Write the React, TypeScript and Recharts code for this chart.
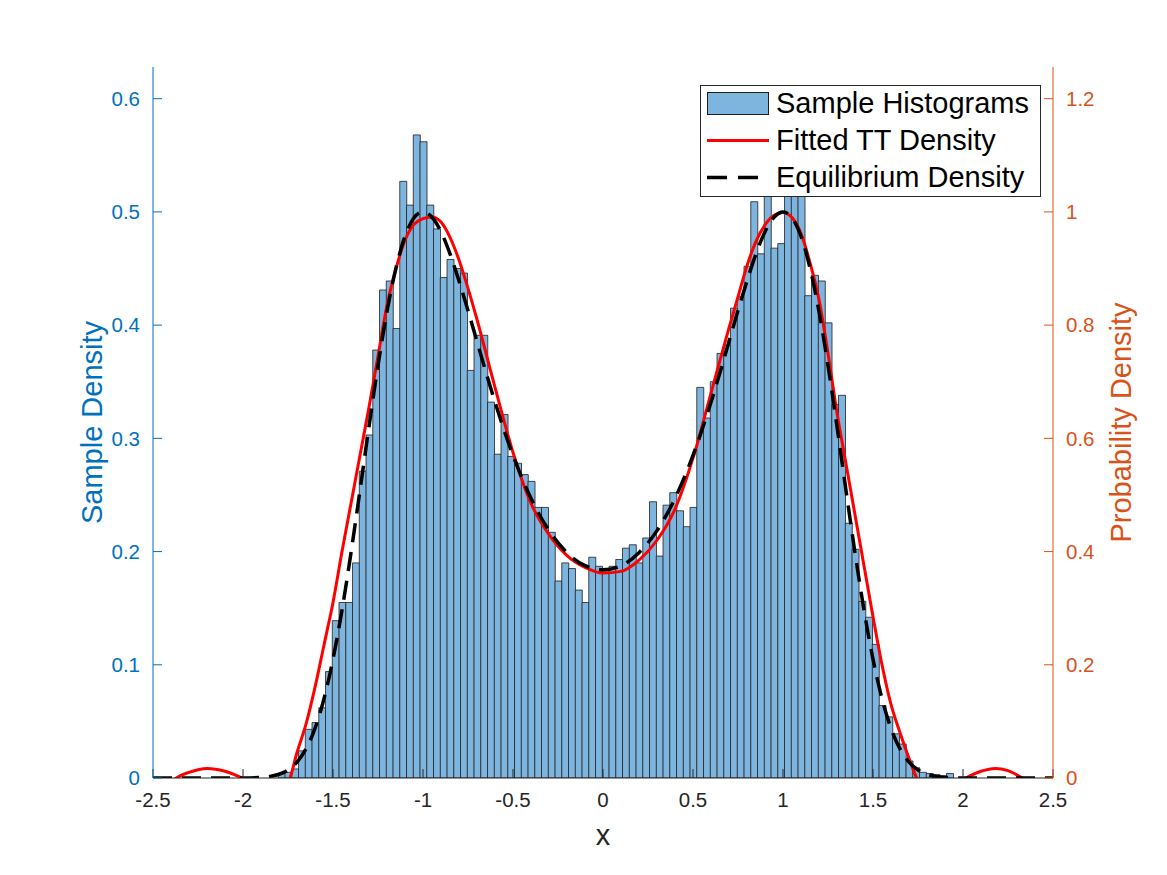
import React from 'react';
import { ComposedChart, Bar, Line, XAxis, YAxis, Legend } from 'recharts';

const FONT = '"Liberation Sans", Arial, Helvetica, sans-serif';
const BLUE = '#0072BD';
const ORANGE = '#D95319';
const AXIS = '#262626';
const BAR_FILL = '#7DB5DE';

// Histogram: 100 bins starting at BIN_START, width BIN_WIDTH
const BIN_START = -1.804;
const BIN_WIDTH = 0.0375;
const histogramDensity = [
  0.004, 0.005, 0.008, 0.024, 0.043, 0.049, 0.062, 0.094, 0.139, 0.155,
  0.155, 0.190, 0.271, 0.303, 0.378, 0.431, 0.439, 0.397, 0.527, 0.506,
  0.568, 0.562, 0.506, 0.485, 0.442, 0.458, 0.450, 0.446, 0.360, 0.391,
  0.391, 0.332, 0.286, 0.321, 0.284, 0.278, 0.268, 0.262, 0.239, 0.239,
  0.217, 0.174, 0.190, 0.185, 0.166, 0.155, 0.195, 0.187, 0.182, 0.187,
  0.193, 0.203, 0.206, 0.190, 0.212, 0.244, 0.196, 0.241, 0.252, 0.236,
  0.222, 0.239, 0.345, 0.318, 0.350, 0.375, 0.382, 0.415, 0.425, 0.452,
  0.509, 0.463, 0.525, 0.468, 0.472, 0.545, 0.550, 0.530, 0.426, 0.444,
  0.439, 0.402, 0.330, 0.338, 0.225, 0.202, 0.156, 0.142, 0.118, 0.064,
  0.054, 0.039, 0.030, 0.015, 0.009, 0.005, 0.004, 0.003, 0.002, 0.004,
];

const X_TICKS = [-2.5, -2, -1.5, -1, -0.5, 0, 0.5, 1, 1.5, 2, 2.5];
const LEFT_TICKS = [0, 0.1, 0.2, 0.3, 0.4, 0.5, 0.6];
const RIGHT_TICKS = [0, 0.2, 0.4, 0.6, 0.8, 1, 1.2];
const X_DOMAIN = [-2.5, 2.5];
const LEFT_DOMAIN = [0, 0.628];
const RIGHT_DOMAIN = [0, 1.256];

// Fitted TT density (right axis)
const fittedX = [
  -2.5, -2.45, -2.4, -2.37, -2.3, -2.2, -2.1, -2.0, -1.9, -1.8, -1.75, -1.7, -1.65, -1.6,
  -1.55, -1.5, -1.45, -1.4, -1.35, -1.3, -1.25, -1.2, -1.15, -1.1, -1.05, -1.0, -0.95,
  -0.9, -0.85, -0.8, -0.75, -0.7, -0.6, -0.5, -0.4, -0.3, -0.2, -0.1, 0, 0.1, 0.2, 0.3,
  0.4, 0.5, 0.6, 0.7, 0.75, 0.8, 0.85, 0.9, 0.95, 1.0, 1.05, 1.1, 1.15, 1.2, 1.25, 1.3,
  1.35, 1.4, 1.45, 1.5, 1.55, 1.6, 1.65, 1.7, 1.75, 1.8, 1.9, 2.0, 2.1, 2.18, 2.25, 2.33,
  2.4, 2.5,
];
const fittedY = [
  -0.03, -0.02, -0.008, 0, 0.01, 0.017, 0.012, -0.001, -0.02, -0.025, -0.01, 0.045, 0.095, 0.16,
  0.235, 0.31, 0.4, 0.485, 0.57, 0.655, 0.745, 0.835, 0.9, 0.95, 0.978, 0.988, 0.991,
  0.982, 0.955, 0.915, 0.865, 0.81, 0.69, 0.575, 0.485, 0.43, 0.393, 0.372, 0.362, 0.365, 0.385, 0.42,
  0.475, 0.565, 0.68, 0.795, 0.85, 0.905, 0.948, 0.977, 0.994, 0.999, 0.99, 0.962, 0.91, 0.845, 0.75, 0.645,
  0.555, 0.465, 0.375, 0.285, 0.2, 0.13, 0.08, 0.035, -0.005, -0.025, -0.025, -0.003, 0.012, 0.017, 0.013, 0,
  -0.012, -0.03,
];

// Equilibrium density (right axis)
const equilX = [
  -2.5, -2.2, -2.0, -1.9, -1.8, -1.75, -1.7, -1.65, -1.6, -1.55, -1.5, -1.45, -1.4, -1.35,
  -1.3, -1.25, -1.2, -1.15, -1.1, -1.05, -1.0, -0.95, -0.9, -0.85, -0.8, -0.75, -0.7, -0.6,
  -0.5, -0.4, -0.3, -0.2, -0.1, 0, 0.1, 0.2, 0.3, 0.4, 0.5, 0.6, 0.7, 0.75, 0.8, 0.85, 0.9,
  0.95, 1.0, 1.05, 1.1, 1.15, 1.2, 1.25, 1.3, 1.35, 1.4, 1.45, 1.5, 1.55, 1.6, 1.65, 1.7,
  1.75, 1.8, 1.9, 2.0, 2.2, 2.5,
];
const equilY = [
  0, 0, 0.0001, 0.0011, 0.0066, 0.0142, 0.0281, 0.0514, 0.0877, 0.14, 0.21, 0.2966, 0.398, 0.508,
  0.621, 0.7288, 0.824, 0.901, 0.957, 0.9896, 1.0, 0.9905, 0.965, 0.926, 0.878, 0.826, 0.771, 0.664,
  0.57, 0.494, 0.437, 0.398, 0.375, 0.368, 0.375, 0.398, 0.437, 0.494, 0.57, 0.664, 0.771, 0.826, 0.878, 0.926, 0.965,
  0.9905, 1.0, 0.9896, 0.957, 0.901, 0.824, 0.7288, 0.621, 0.508, 0.398, 0.2966, 0.21, 0.14, 0.0877, 0.0514, 0.0281,
  0.0142, 0.0066, 0.0011, 0.0001, 0, 0,
];

const histData = histogramDensity.map((d, i) => ({
  x: BIN_START + BIN_WIDTH * (i + 0.5),
  density: d,
}));
const fittedData = fittedX.map((x, i) => ({ x, y: fittedY[i] }));
const equilData = equilX.map((x, i) => ({ x, y: equilY[i] }));

const WIDTH = 1159;
const HEIGHT = 867;
const MARGIN = { top: 59, right: 0, bottom: 27, left: 0 };
const LEFT_W = 145;
const RIGHT_W = 114;
const XAXIS_H = 70;

const legendRows = [
  { label: 'Sample Histograms', kind: 'bar' },
  { label: 'Fitted TT Density', kind: 'line' },
  { label: 'Equilibrium Density', kind: 'dash' },
];

const LegendBox = () => (
  <div
    style={{
      width: 341,
      height: 112,
      boxSizing: 'border-box',
      border: `1px solid ${AXIS}`,
      background: '#ffffff',
      position: 'relative',
      fontFamily: FONT,
    }}
  >
    {legendRows.map((r, i) => (
      <div
        key={r.label}
        style={{ position: 'absolute', left: 0, top: 17 + i * 37 - 18.5, height: 37, width: '100%' }}
      >
        <svg width={62} height={37} style={{ position: 'absolute', left: 6, top: 0 }}>
          {r.kind === 'bar' && (
            <rect x={0.5} y={7.5} width={61} height={22} fill={BAR_FILL} stroke="#1f1f1f" strokeWidth={1} />
          )}
          {r.kind === 'line' && <line x1={0} y1={18.5} x2={62} y2={18.5} stroke="#FF0000" strokeWidth={3} />}
          {r.kind === 'dash' && (
            <line x1={0} y1={18.5} x2={62} y2={18.5} stroke="#000000" strokeWidth={3.5} strokeDasharray="20 11" />
          )}
        </svg>
        <span
          style={{
            position: 'absolute',
            left: 75,
            top: 0,
            lineHeight: '37px',
            fontSize: 29,
            color: '#000000',
            whiteSpace: 'nowrap',
          }}
        >
          {r.label}
        </span>
      </div>
    ))}
  </div>
);

export default function App() {
  return (
    <ComposedChart
      width={WIDTH}
      height={HEIGHT}
      data={histData}
      margin={MARGIN}
      barCategoryGap={0}
      barGap={0}
      style={{ fontFamily: FONT }}
    >
      <XAxis
        dataKey="x"
        type="number"
        domain={X_DOMAIN}
        ticks={X_TICKS}
        allowDataOverflow
        height={XAXIS_H}
        stroke={AXIS}
        tickSize={-9}
        tickMargin={23}
        tick={{ fill: AXIS, fontSize: 20.5, fontFamily: FONT }}
        label={{ value: 'x', position: 'center', dy: 22, fill: AXIS, fontSize: 29, fontFamily: FONT }}
      />
      <XAxis
        xAxisId="lines"
        dataKey="x"
        type="number"
        domain={X_DOMAIN}
        allowDataOverflow
        hide
      />
      <YAxis
        yAxisId="left"
        orientation="left"
        domain={LEFT_DOMAIN}
        ticks={LEFT_TICKS}
        allowDataOverflow
        width={LEFT_W}
        stroke={BLUE}
        tickSize={-9}
        tickMargin={22}
        tick={{ fill: BLUE, fontSize: 20.5, fontFamily: FONT }}
        label={{
          value: 'Sample Density',
          angle: -90,
          position: 'center',
          dx: 11,
          fill: BLUE,
          fontSize: 29,
          fontFamily: FONT,
        }}
      />
      <YAxis
        yAxisId="right"
        orientation="right"
        domain={RIGHT_DOMAIN}
        ticks={RIGHT_TICKS}
        allowDataOverflow
        width={RIGHT_W}
        stroke={ORANGE}
        tickSize={-9}
        tickMargin={22}
        tick={{ fill: ORANGE, fontSize: 20.5, fontFamily: FONT }}
        label={{
          value: 'Probability Density',
          angle: -90,
          position: 'center',
          dx: 11,
          fill: ORANGE,
          fontSize: 29,
          fontFamily: FONT,
        }}
      />
      <Bar
        yAxisId="left"
        dataKey="density"
        fill={BAR_FILL}
        stroke="#1f1f1f"
        strokeWidth={0.8}
        isAnimationActive={false}
      />
      <Line
        yAxisId="right"
        xAxisId="lines"
        data={fittedData}
        dataKey="y"
        type="monotone"
        stroke="#FF0000"
        strokeWidth={3}
        dot={false}
        activeDot={false}
        isAnimationActive={false}
      />
      <Line
        yAxisId="right"
        xAxisId="lines"
        data={equilData}
        dataKey="y"
        type="monotone"
        stroke="#000000"
        strokeWidth={3.5}
        strokeDasharray="19 10"
        dot={false}
        activeDot={false}
        isAnimationActive={false}
      />
      <Legend
        layout="vertical"
        align="center"
        verticalAlign="middle"
        content={() => <LegendBox />}
        wrapperStyle={{ left: 692, top: 77, width: 341, height: 112, right: 'auto', bottom: 'auto' }}
      />
    </ComposedChart>
  );
}
